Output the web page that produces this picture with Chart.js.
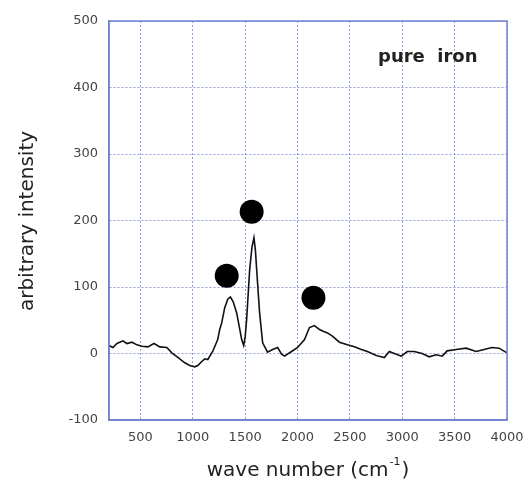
<!DOCTYPE html>
<html>
<head>
<meta charset="utf-8">
<script src="https://cdn.jsdelivr.net/npm/chart.js"></script>
<style>
    body { margin: 0; background: #fff; }
    #wrap { width: 524px; height: 488px; }
</style>
</head>
<body>
<div id="wrap"><canvas id="ramanChart"></canvas></div>
<script>
// Spectrum (wave number, intensity)
const waveNumbers = [200, 238, 276, 333, 371, 419, 467, 514, 571, 629, 686, 752, 800, 857, 924, 971, 1019, 1048, 1086, 1114, 1143, 1190, 1238, 1257, 1276, 1305, 1335, 1359, 1385, 1419, 1450, 1467, 1486, 1500, 1514, 1543, 1565, 1584, 1598, 1610, 1638, 1667, 1714, 1762, 1810, 1848, 1876, 1943, 2000, 2067, 2114, 2162, 2210, 2250, 2286, 2333, 2400, 2476, 2543, 2610, 2667, 2752, 2781, 2829, 2876, 2924, 2990, 3048, 3114, 3190, 3257, 3324, 3381, 3429, 3514, 3610, 3705, 3781, 3857, 3924, 4000];
const intensities = [12, 9, 15, 19, 15, 17, 13, 11, 10, 15, 10, 9, 1, -6, -14, -18, -20, -18, -12, -8, -9, 3, 21, 36, 46, 69, 82, 85, 78, 61, 35, 21, 12, 25, 51, 126, 160, 174, 155, 126, 61, 16, 2, 6, 9, -1, -4, 3, 9, 21, 39, 42, 36, 33, 31, 26, 17, 13, 10, 6, 3, -3, -4, -6, 3, 0, -4, 3, 3, 0, -5, -2, -4, 4, 6, 8, 3, 6, 9, 8, 1];

// Black marker dots above the three bands
const markerWave = [1324, 1562, 2152];
const markerHeight = [117, 213, 84];

const xTicks = [500, 1000, 1500, 2000, 2500, 3000, 3500, 4000];
const yTicks = [-100, 0, 100, 200, 300, 400, 500];

const gridBlue = 'rgba(110, 125, 210, 0.75)';
const frameBlue = '#6f80d2';
const fontFamily = '"DejaVu Sans", Verdana, sans-serif';

// frame on all four sides plus the texts
const decorations = {
    id: 'decorations',
    afterDatasetsDraw(chart) {
        const ctx = chart.ctx;
        const a = chart.chartArea;
        ctx.save();
        ctx.strokeStyle = frameBlue;
        ctx.lineWidth = 1.5;
        ctx.strokeRect(a.left, a.top, a.right - a.left, a.bottom - a.top);
        ctx.restore();
    },
    afterDraw(chart) {
        const ctx = chart.ctx;
        ctx.save();
        ctx.fillStyle = '#222';
        ctx.textBaseline = 'middle';

        // label inside the plot
        ctx.font = 'bold 18px ' + fontFamily;
        ctx.textAlign = 'left';
        ctx.fillText('pure  iron', 378, 57);

        // x axis title with superscript
        const main = 'wave number (cm';
        const sup = '-1';
        const close = ')';
        ctx.font = '20px ' + fontFamily;
        const w1 = ctx.measureText(main).width;
        const w3 = ctx.measureText(close).width;
        ctx.font = '11px ' + fontFamily;
        const w2 = ctx.measureText(sup).width;
        let x = 307 - (w1 + w2 + w3) / 2;
        const y = 471;
        ctx.font = '20px ' + fontFamily;
        ctx.fillText(main, x, y);
        x += w1;
        ctx.font = '11px ' + fontFamily;
        ctx.fillText(sup, x + 1, y - 9);
        x += w2 + 2;
        ctx.font = '20px ' + fontFamily;
        ctx.fillText(close, x, y);

        // y axis title
        ctx.translate(28, 221);
        ctx.rotate(-Math.PI / 2);
        ctx.textAlign = 'center';
        ctx.fillText('arbitrary intensity', 0, 0);
        ctx.restore();
    }
};

document.addEventListener('DOMContentLoaded', function() {
    const spectrum = waveNumbers.map((w, i) => ({ x: w, y: intensities[i] }));
    const markers = markerWave.map((w, i) => ({ x: w, y: markerHeight[i] }));

    const ctx = document.getElementById('ramanChart').getContext('2d');
    new Chart(ctx, {
        type: 'scatter',
        data: {
            datasets: [{
                data: markers,
                showLine: false,
                pointRadius: 12,
                pointBackgroundColor: '#000',
                pointBorderWidth: 0
            }, {
                data: spectrum,
                showLine: true,
                borderColor: '#111',
                borderWidth: 1.6,
                pointRadius: 0,
                tension: 0
            }]
        },
        options: {
            responsive: true,
            maintainAspectRatio: false,
            animation: false,
            layout: { padding: { top: 21, right: 0, left: 0, bottom: 0 } },
            plugins: {
                legend: { display: false },
                tooltip: { enabled: false }
            },
            scales: {
                x: {
                    type: 'linear',
                    min: 200,
                    max: 4000,
                    afterBuildTicks: scale => { scale.ticks = xTicks.map(v => ({ value: v })); },
                    afterFit: scale => {
                        scale.height = 68;
                        scale.paddingRight = 17;
                    },
                    grid: { color: gridBlue, lineWidth: 1, drawTicks: false },
                    border: { display: true, color: frameBlue, width: 1.5, dash: [2, 2] },
                    ticks: {
                        padding: 10,
                        maxRotation: 0,
                        color: '#444',
                        callback: v => String(v),
                        font: { family: fontFamily, size: 13 }
                    }
                },
                y: {
                    min: -100,
                    max: 500,
                    afterBuildTicks: scale => { scale.ticks = yTicks.map(v => ({ value: v })); },
                    afterFit: scale => { scale.width = 109; },
                    grid: { color: gridBlue, lineWidth: 1, drawTicks: false },
                    border: { display: true, color: frameBlue, width: 1.5, dash: [2, 2] },
                    ticks: {
                        padding: 11,
                        color: '#444',
                        callback: v => String(v),
                        font: { family: fontFamily, size: 13 }
                    }
                }
            }
        },
        plugins: [decorations]
    });
});
</script>
</body>
</html>
